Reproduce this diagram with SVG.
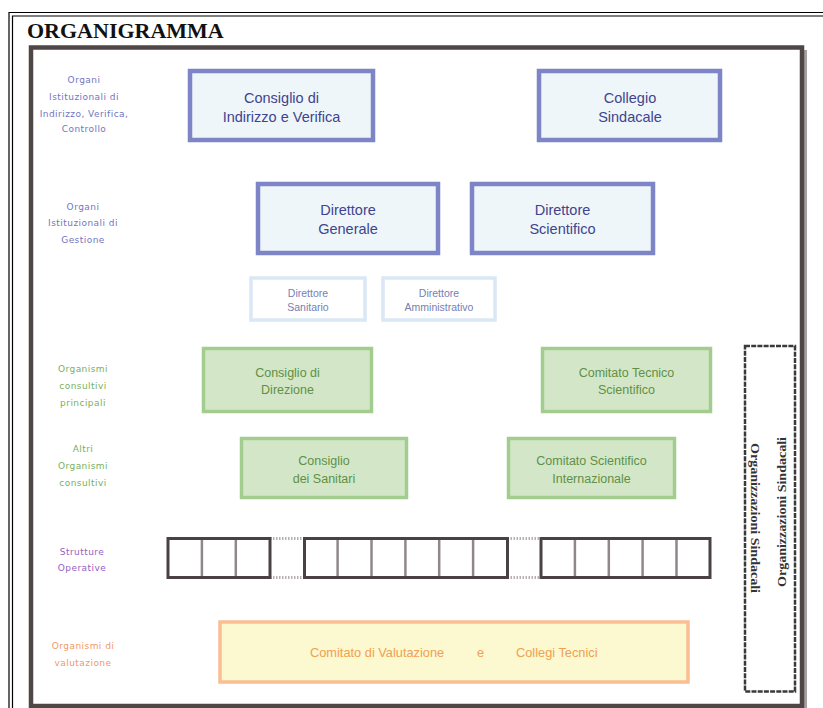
<svg xmlns="http://www.w3.org/2000/svg" width="823" height="708" viewBox="0 0 823 708">
<style>
.lbl{font-family:"DejaVu Sans",sans-serif;font-size:9px;letter-spacing:0.45px;text-anchor:middle}
.lb{fill:#7276c0}
.lg{fill:#78b060}
.lp{fill:#9462c4}
.lo{fill:#f09a66}
.big rect{fill:#eef6fa;stroke:#7d85c6;stroke-width:4.5}
.big text{font-family:"Liberation Sans",sans-serif;font-size:14.5px;fill:#3f448e;text-anchor:middle}
.sm rect{fill:#ffffff;stroke:#dae8f6;stroke-width:3.5}
.sm text{font-family:"Liberation Sans",sans-serif;font-size:10.5px;fill:#7480b4;text-anchor:middle}
.gr rect{fill:#d3e7c8;stroke:#a3cd8e;stroke-width:3.5}
.gr text{font-family:"Liberation Sans",sans-serif;font-size:12.5px;fill:#5f9046;text-anchor:middle}
.cell{fill:none;stroke:#4a4242;stroke-width:3}
.div{stroke:#8f8888;stroke-width:2.5}
.dot{stroke:#b8b0b0;stroke-width:3;stroke-dasharray:1.5 1.5}
.vt{font-family:"Liberation Serif",serif;font-weight:bold;font-size:12px;fill:#333333}
</style>
<rect width="823" height="708" fill="#ffffff"/>
<g id="page-frame" fill="none" stroke="#000000" stroke-width="1.2">
<path d="M9 708 V12.5 H823"/>
<path d="M12.5 708 V16 H823"/>
</g>
<text x="27" y="38" font-family="Liberation Serif,serif" font-weight="bold" font-size="22" fill="#111111">ORGANIGRAMMA</text>
<g id="inner-frame">
<line x1="805.5" y1="50" x2="805.5" y2="708" stroke="#a8a0a0" stroke-width="3"/>
<rect x="31" y="47.5" width="771" height="658.5" fill="none" stroke="#4f4646" stroke-width="4.5"/>
</g>
<g id="labels">
<text class="lbl lb" x="84" y="83">Organi</text>
<text class="lbl lb" x="84" y="100">Istituzionali di</text>
<text class="lbl lb" x="84" y="117">Indirizzo, Verifica,</text>
<text class="lbl lb" x="84" y="132">Controllo</text>
<text class="lbl lb" x="83" y="210">Organi</text>
<text class="lbl lb" x="83" y="226">Istituzionali di</text>
<text class="lbl lb" x="83" y="243">Gestione</text>
<text class="lbl lg" x="83" y="372">Organismi</text>
<text class="lbl lg" x="83" y="389">consultivi</text>
<text class="lbl lg" x="83" y="406">principali</text>
<text class="lbl lg" x="83" y="452">Altri</text>
<text class="lbl lg" x="83" y="469">Organismi</text>
<text class="lbl lg" x="83" y="486">consultivi</text>
<text class="lbl lp" x="82" y="555">Strutture</text>
<text class="lbl lp" x="82" y="571">Operative</text>
<text class="lbl lo" x="83" y="649">Organismi di</text>
<text class="lbl lo" x="83" y="666">valutazione</text>
</g>
<g id="consiglio-indirizzo" class="big">
<rect x="190" y="71" width="183" height="69"/>
<text x="281.5" y="103">Consiglio di</text>
<text x="281.5" y="122">Indirizzo e Verifica</text>
</g>
<g id="collegio-sindacale" class="big">
<rect x="539" y="71" width="181" height="69"/>
<text x="630" y="103">Collegio</text>
<text x="630" y="122">Sindacale</text>
</g>
<g id="direttore-generale" class="big">
<rect x="258" y="184" width="180" height="69"/>
<text x="348" y="215">Direttore</text>
<text x="348" y="234">Generale</text>
</g>
<g id="direttore-scientifico" class="big">
<rect x="472" y="184" width="181" height="69"/>
<text x="562.5" y="215">Direttore</text>
<text x="562.5" y="234">Scientifico</text>
</g>
<g id="direttore-sanitario" class="sm">
<rect x="251" y="278" width="114" height="42"/>
<text x="308" y="297">Direttore</text>
<text x="308" y="311">Sanitario</text>
</g>
<g id="direttore-amministrativo" class="sm">
<rect x="383" y="278" width="112" height="42"/>
<text x="439" y="297">Direttore</text>
<text x="439" y="311">Amministrativo</text>
</g>
<g id="consiglio-direzione" class="gr">
<rect x="203.5" y="348.5" width="168" height="63"/>
<text x="287.5" y="377">Consiglio di</text>
<text x="287.5" y="394">Direzione</text>
</g>
<g id="comitato-tecnico-scientifico" class="gr">
<rect x="542.5" y="348.5" width="168" height="63"/>
<text x="626.5" y="377">Comitato Tecnico</text>
<text x="626.5" y="394">Scientifico</text>
</g>
<g id="consiglio-sanitari" class="gr">
<rect x="241.5" y="438.5" width="165" height="59"/>
<text x="324" y="465">Consiglio</text>
<text x="324" y="483">dei Sanitari</text>
</g>
<g id="comitato-scientifico-internazionale" class="gr">
<rect x="508.5" y="438.5" width="166" height="59"/>
<text x="591.5" y="465">Comitato Scientifico</text>
<text x="591.5" y="483">Internazionale</text>
</g>
<g id="strutture-operative">
<line class="dot" x1="270" y1="538.5" x2="304.5" y2="538.5"/>
<line class="dot" x1="270" y1="577.5" x2="304.5" y2="577.5"/>
<line class="dot" x1="507.5" y1="538.5" x2="541" y2="538.5"/>
<line class="dot" x1="507.5" y1="577.5" x2="541" y2="577.5"/>
<line class="div" x1="201.9" y1="540" x2="201.9" y2="576"/>
<line class="div" x1="235.8" y1="540" x2="235.8" y2="576"/>
<line class="div" x1="337.6" y1="540" x2="337.6" y2="576"/>
<line class="div" x1="371.5" y1="540" x2="371.5" y2="576"/>
<line class="div" x1="405.4" y1="540" x2="405.4" y2="576"/>
<line class="div" x1="439.2" y1="540" x2="439.2" y2="576"/>
<line class="div" x1="473.1" y1="540" x2="473.1" y2="576"/>
<line class="div" x1="574.9" y1="540" x2="574.9" y2="576"/>
<line class="div" x1="608.8" y1="540" x2="608.8" y2="576"/>
<line class="div" x1="642.6" y1="540" x2="642.6" y2="576"/>
<line class="div" x1="676.5" y1="540" x2="676.5" y2="576"/>
<rect class="cell" x="168" y="538.5" width="102" height="39"/>
<rect class="cell" x="304.5" y="538.5" width="203" height="39"/>
<rect class="cell" x="541" y="538.5" width="169" height="39"/>
</g>
<g id="comitato-valutazione">
<rect x="220" y="622" width="468" height="60" fill="#fcf8d0" stroke="#f9bf92" stroke-width="3.5"/>
<g font-family="Liberation Sans,sans-serif" font-size="12.8" fill="#f0a050">
<text x="310" y="657">Comitato di Valutazione</text>
<text x="477" y="657">e</text>
<text x="516" y="657">Collegi Tecnici</text>
</g>
</g>
<g id="organizzazioni-sindacali">
<rect x="745" y="346" width="50" height="345.5" fill="none" stroke="#3a3a3a" stroke-width="2.5" stroke-dasharray="5 1.2"/>
<text class="vt" transform="translate(751,443) rotate(90)" textLength="150" lengthAdjust="spacingAndGlyphs">Organizzazioni Sindacali</text>
<text class="vt" transform="translate(786,587) rotate(-90)" textLength="150" lengthAdjust="spacingAndGlyphs">Organizzazioni Sindacali</text>
</g>
<g id="connectors"/>
</svg>
